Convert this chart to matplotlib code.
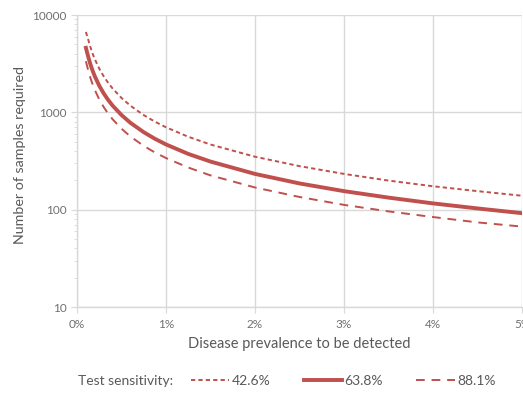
import matplotlib
matplotlib.use("Agg")
import matplotlib.pyplot as plt
from matplotlib.ticker import FixedLocator, LogLocator, NullFormatter

# prevalence (%) and samples required for each test sensitivity
prevalence = [0.1, 0.125, 0.15, 0.175, 0.2, 0.25, 0.3, 0.35, 0.4, 0.5, 0.6, 0.75,
              0.875, 1.0, 1.25, 1.5, 2.0, 2.5, 3.0, 3.5, 4.0, 4.5, 5.0]
n_426 = [6700, 5626, 4690, 4017, 3515, 2812, 2343, 2008, 1757, 1405, 1171, 936,
         802, 702, 561, 467, 350, 280, 233, 199, 174, 155, 139]
n_638 = [4600, 3755, 3129, 2682, 2346, 1877, 1564, 1340, 1173, 938, 781, 625,
         535, 468, 374, 312, 233, 186, 155, 133, 116, 103, 92]
n_881 = [3350, 2719, 2266, 1942, 1699, 1359, 1132, 970, 849, 679, 565, 452,
         387, 339, 271, 225, 169, 135, 112, 96, 84, 74, 67]

series_labels = ["42.6%", "63.8%", "88.1%"]
x_ticks = [0, 1, 2, 3, 4, 5]
x_tick_labels = ["0%", "1%", "2%", "3%", "4%", "5%"]
y_ticks = [10, 100, 1000, 10000]

RED = "#c0504d"
GREY = "#595959"
TICK_GREY = "#6f6f6f"
GRID = "#d9d9d9"

plt.rcParams["font.family"] = ["Lato", "DejaVu Sans"]

fig = plt.figure(figsize=(5.23, 3.93), dpi=100)
ax = fig.add_axes([77 / 523, 1 - 307 / 393, 445 / 523, 292 / 393])

ax.plot(prevalence, n_426, color=RED, lw=1.4, dashes=(2.2, 1.6), label=series_labels[0])
ax.plot(prevalence, n_638, color=RED, lw=2.8, label=series_labels[1])
ax.plot(prevalence, n_881, color=RED, lw=1.4, dashes=(4.5, 3.5), label=series_labels[2])

ax.set_yscale("log")
ax.set_xlim(0, 5)
ax.set_ylim(10, 10000)
ax.xaxis.set_major_locator(FixedLocator(x_ticks))
ax.set_xticklabels(x_tick_labels)
ax.yaxis.set_major_locator(FixedLocator(y_ticks))
ax.set_yticklabels([str(v) for v in y_ticks])
ax.yaxis.set_minor_locator(LogLocator(base=10, subs=range(2, 10)))
ax.yaxis.set_minor_formatter(NullFormatter())

ax.grid(True, which="major", color=GRID, lw=1)
ax.set_axisbelow(True)
for side in ["top", "right"]:
    ax.spines[side].set_visible(False)
for side in ["left", "bottom"]:
    ax.spines[side].set_color(GRID)
    ax.spines[side].set_linewidth(1)

ax.tick_params(axis="both", which="major", colors=TICK_GREY, labelsize=8.5, length=4, color=GRID)
ax.tick_params(axis="y", which="minor", length=2.5, color=GRID)
ax.tick_params(axis="x", pad=5)

ax.set_xlabel("Disease prevalence to be detected", color=GREY, fontsize=10.5, labelpad=5)
ax.set_ylabel("Number of samples required", color=GREY, fontsize=10.3)
ax.yaxis.set_label_coords(-0.115, 0.52)

fig.text(78 / 523, 1 - 381 / 393, "Test sensitivity:", color=GREY, fontsize=10, va="center")
fig.legend(
    loc="center left",
    bbox_to_anchor=(178 / 523, 1 - 381 / 393),
    ncol=3,
    frameon=False,
    fontsize=10,
    labelcolor=GREY,
    handlelength=2.8,
    handletextpad=0.15,
    columnspacing=2.4,
)

fig.savefig("out.png", dpi=100)
